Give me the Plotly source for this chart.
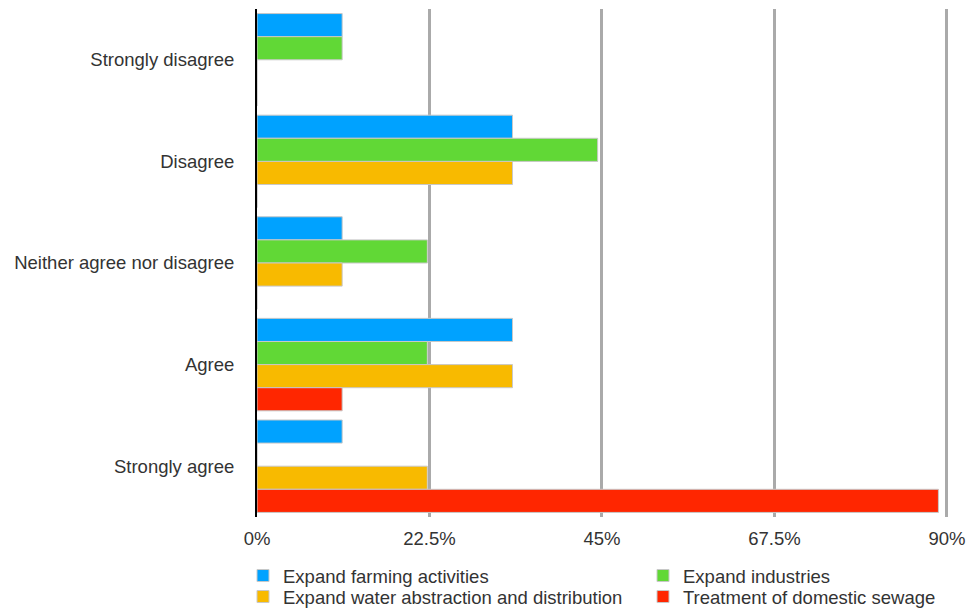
import plotly.graph_objects as go

categories = ["Strongly disagree", "Disagree", "Neither agree nor disagree", "Agree", "Strongly agree"]
series_names = ["Expand farming activities", "Expand industries",
                "Expand water abstraction and distribution", "Treatment of domestic sewage"]
farming = [11.11, 33.33, 11.11, 33.33, 11.11]
industries = [11.11, 44.44, 22.22, 22.22, 0]
water = [0, 33.33, 11.11, 33.33, 22.22]
sewage = [0, 0, 0, 11.11, 88.89]
colors = ["#00a2ff", "#61d836", "#f8ba00", "#ff2600"]
legend_ids = ["legend", "legend2", "legend3", "legend4"]
legend_pos = [(243, 557), (643, 557), (243, 578), (643, 578)]
tick_vals = [0, 22.5, 45, 67.5, 90]
tick_text = ["0%", "22.5%", "45%", "67.5%", "90%"]

fig = go.Figure()
for name, vals, col, lg in zip(series_names, [farming, industries, water, sewage], colors, legend_ids):
    fig.add_trace(go.Bar(
        y=categories, x=vals, name=name, orientation="h", legend=lg,
        marker=dict(color=col, line=dict(color="#c8c8c8", width=1)),
    ))

legend_common = dict(orientation="v", xref="container", yref="container",
                     xanchor="left", yanchor="top", tracegroupgap=0,
                     font=dict(size=18.5, color="#333333"), itemwidth=30,
                     bgcolor="rgba(0,0,0,0)")
legends = {lg: dict(legend_common, x=px / 968, y=1 - py / 612)
           for lg, (px, py) in zip(legend_ids, legend_pos)}

fig.update_layout(
    width=968, height=612,
    barmode="group", bargap=0.09, bargroupgap=0.0,
    plot_bgcolor="white", paper_bgcolor="white",
    margin=dict(l=257, r=18, t=9, b=95, autoexpand=False),
    font=dict(family="Liberation Sans, Arial, sans-serif", size=18.5, color="#333333"),
    xaxis=dict(range=[0, 90.4], tickvals=tick_vals, ticktext=tick_text,
               showgrid=True, gridcolor="#aaaaaa", gridwidth=2.5,
               zeroline=False, showline=False, ticks="", ticklabelstandoff=8,
               fixedrange=True),
    yaxis=dict(autorange="reversed", showline=True, linecolor="#000000", linewidth=2,
               showgrid=False, ticks="", ticklabelstandoff=17),
    showlegend=True,
    **legends,
)
fig.write_html("out.html")
